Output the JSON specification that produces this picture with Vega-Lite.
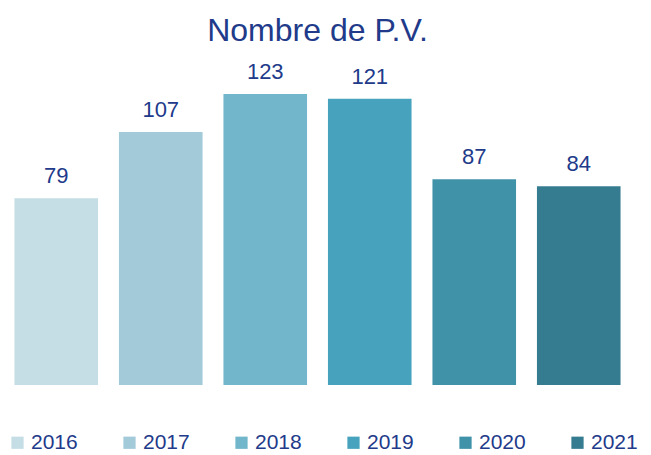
{
  "$schema": "https://vega.github.io/schema/vega-lite/v6.json",
  "width": 627,
  "height": 325,
  "autosize": "none",
  "padding": {"left": 4, "top": 60, "right": 20, "bottom": 70},
  "background": "white",
  "config": {"view": {"stroke": null}, "font": "Liberation Sans"},
  "title": {"text": "Nombre de P.V.", "fontSize": 32, "fontWeight": "normal", "color": "#213A8A", "anchor": "middle", "offset": 12, "font": "Liberation Sans"},
  "data": {"values": [
    {"year": "2016", "value": 79},
    {"year": "2017", "value": 107},
    {"year": "2018", "value": 123},
    {"year": "2019", "value": 121},
    {"year": "2020", "value": 87},
    {"year": "2021", "value": 84}
  ]},
  "encoding": {
    "x": {"field": "year", "type": "nominal", "axis": null, "scale": {"paddingInner": 0.2, "paddingOuter": 0.1}},
    "y": {"field": "value", "type": "quantitative", "axis": null, "scale": {"domain": [0, 137.4]}}
  },
  "layer": [
    {
      "mark": {"type": "bar"},
      "encoding": {
        "color": {
          "field": "year", "type": "nominal",
          "scale": {"range": ["#C5DEE6", "#A2CAD9", "#71B6CB", "#47A3BD", "#4092A8", "#367C90"]},
          "legend": {
            "orient": "none", "direction": "horizontal", "columns": 6,
            "legendX": 3, "legendY": 372, "title": null,
            "symbolType": "square", "symbolSize": 150, "symbolStrokeWidth": 0,
            "labelFontSize": 21, "labelColor": "#213A8A", "labelFont": "Liberation Sans",
            "columnPadding": 41, "labelOffset": 3
          }
        }
      }
    },
    {
      "mark": {"type": "text", "dy": -15, "baseline": "alphabetic", "fontSize": 22, "color": "#213A8A", "font": "Liberation Sans"},
      "encoding": {"text": {"field": "value", "type": "quantitative"}}
    }
  ]
}
